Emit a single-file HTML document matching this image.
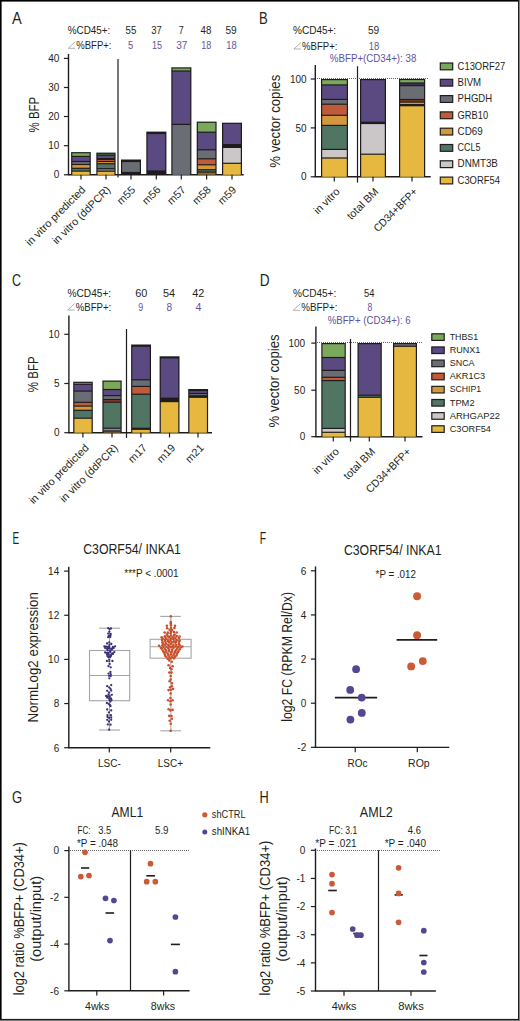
<!DOCTYPE html>
<html><head><meta charset="utf-8"><style>
html,body{margin:0;padding:0;background:#fff;}
svg{display:block;}
text{font-family:"Liberation Sans", sans-serif;}
</style></head><body>
<svg width="520" height="1021" viewBox="0 0 520 1021">
<rect x="0" y="0" width="520" height="1021" fill="#fff"/>
<text id="t0" transform="translate(12.00,23.80) scale(0.8865,1)" font-size="16.5" fill="#231f20">A</text>
<text id="t1" transform="translate(67.70,33.80) scale(0.9907,1)" font-size="10" fill="#231f20">%CD45+:</text>
<path d="M75.30,41.70 L68.20,48.30 L75.20,48.30" fill="none" stroke="#9a9a9a" stroke-width="0.8"/>
<text id="t2" transform="translate(76.30,48.80) scale(0.9526,1)" font-size="10" fill="#231f20">%BFP+:</text>
<text id="t3" transform="translate(125.50,33.75) scale(0.9685,1)" font-size="10" fill="#231f20">55</text>
<text id="t4" transform="translate(151.25,33.75) scale(0.9459,1)" font-size="10" fill="#231f20">37</text>
<text id="t5" transform="translate(178.75,33.75) scale(0.9009,1)" font-size="10" fill="#231f20">7</text>
<text id="t6" transform="translate(200.50,33.75) scale(0.9685,1)" font-size="10" fill="#231f20">48</text>
<text id="t7" transform="translate(225.50,33.75) scale(1.0135,1)" font-size="10" fill="#231f20">59</text>
<text id="t8" transform="translate(128.00,48.75) scale(0.9459,1)" font-size="10" fill="#62529c">5</text>
<text id="t9" transform="translate(152.00,48.75) scale(0.9009,1)" font-size="10" fill="#62529c">15</text>
<text id="t10" transform="translate(176.25,48.75) scale(1.0135,1)" font-size="10" fill="#62529c">37</text>
<text id="t11" transform="translate(201.25,48.75) scale(0.9009,1)" font-size="10" fill="#62529c">18</text>
<text id="t12" transform="translate(226.25,48.75) scale(0.9459,1)" font-size="10" fill="#62529c">18</text>
<line x1="68.50" y1="54.00" x2="68.50" y2="174.80" stroke="#1f1c1d" stroke-width="1.4"/>
<line x1="63.90" y1="58.40" x2="68.50" y2="58.40" stroke="#1f1c1d" stroke-width="1.2"/>
<text id="t13" transform="translate(48.30,62.00) scale(1.0000,1)" font-size="10" fill="#231f20">40</text>
<line x1="63.90" y1="87.50" x2="68.50" y2="87.50" stroke="#1f1c1d" stroke-width="1.2"/>
<text id="t14" transform="translate(48.30,91.10) scale(1.0000,1)" font-size="10" fill="#231f20">30</text>
<line x1="63.90" y1="116.50" x2="68.50" y2="116.50" stroke="#1f1c1d" stroke-width="1.2"/>
<text id="t15" transform="translate(48.30,120.10) scale(1.0000,1)" font-size="10" fill="#231f20">20</text>
<line x1="63.90" y1="145.70" x2="68.50" y2="145.70" stroke="#1f1c1d" stroke-width="1.2"/>
<text id="t16" transform="translate(48.30,149.30) scale(1.0000,1)" font-size="10" fill="#231f20">10</text>
<line x1="63.90" y1="174.80" x2="68.50" y2="174.80" stroke="#1f1c1d" stroke-width="1.2"/>
<text id="t17" transform="translate(53.85,178.40) scale(1.0000,1)" font-size="10" fill="#231f20">0</text>
<text transform="translate(39.00,114.60) rotate(-90) translate(-17.80,0) scale(0.8295,1)" font-size="13.8" fill="#231f20">% BFP</text>
<line x1="67.80" y1="174.80" x2="243.70" y2="174.80" stroke="#1f1c1d" stroke-width="1.4"/>
<line x1="118.00" y1="59.00" x2="118.00" y2="177.50" stroke="#1f1c1d" stroke-width="1.2"/>
<rect x="71.10" y="152.10" width="19.70" height="22.70" fill="#1f1c1d"/>
<rect x="72.30" y="153.30" width="17.30" height="2.50" fill="#7aa95c"/>
<rect x="72.30" y="157.00" width="17.30" height="3.90" fill="#5b4981"/>
<rect x="72.30" y="162.10" width="17.30" height="1.80" fill="#6a6e74"/>
<rect x="72.30" y="165.10" width="17.30" height="2.60" fill="#d5973c"/>
<rect x="72.30" y="168.90" width="17.30" height="1.60" fill="#507663"/>
<rect x="72.30" y="171.70" width="17.30" height="3.10" fill="#e6b840"/>
<rect x="96.30" y="152.60" width="19.30" height="22.20" fill="#1f1c1d"/>
<rect x="97.50" y="153.80" width="16.90" height="0.80" fill="#4f7a45"/>
<rect x="97.50" y="155.80" width="16.90" height="2.20" fill="#5b4981"/>
<rect x="97.50" y="160.00" width="16.90" height="0.90" fill="#bf5a3b"/>
<rect x="97.50" y="162.10" width="16.90" height="1.00" fill="#d5973c"/>
<rect x="97.50" y="164.30" width="16.90" height="3.80" fill="#507663"/>
<rect x="97.50" y="169.30" width="16.90" height="1.30" fill="#8e8496"/>
<rect x="97.50" y="171.80" width="16.90" height="3.00" fill="#e6b840"/>
<rect x="121.00" y="159.50" width="20.00" height="15.30" fill="#1f1c1d"/>
<rect x="122.20" y="162.10" width="17.60" height="9.80" fill="#6a6e74"/>
<rect x="122.20" y="173.10" width="17.60" height="1.70" fill="#1f1c1d"/>
<rect x="146.30" y="131.60" width="20.10" height="43.20" fill="#1f1c1d"/>
<rect x="147.50" y="134.10" width="17.70" height="36.30" fill="#5b4981"/>
<rect x="147.50" y="171.60" width="17.70" height="3.20" fill="#1f1c1d"/>
<rect x="171.30" y="67.30" width="20.10" height="107.50" fill="#1f1c1d"/>
<rect x="172.50" y="68.50" width="17.70" height="1.90" fill="#7aa95c"/>
<rect x="172.50" y="71.60" width="17.70" height="52.20" fill="#5b4981"/>
<rect x="172.50" y="125.00" width="17.70" height="49.80" fill="#6a6e74"/>
<rect x="196.70" y="121.60" width="19.90" height="53.20" fill="#1f1c1d"/>
<rect x="197.90" y="122.80" width="17.50" height="8.80" fill="#7aa95c"/>
<rect x="197.90" y="132.80" width="17.50" height="16.40" fill="#5b4981"/>
<rect x="197.90" y="150.40" width="17.50" height="7.80" fill="#6a6e74"/>
<rect x="197.90" y="159.40" width="17.50" height="4.80" fill="#bf5a3b"/>
<rect x="197.90" y="165.40" width="17.50" height="3.70" fill="#d5973c"/>
<rect x="197.90" y="170.30" width="17.50" height="1.10" fill="#507663"/>
<rect x="197.90" y="172.60" width="17.50" height="2.20" fill="#8a6a35"/>
<rect x="222.00" y="122.70" width="20.00" height="52.10" fill="#1f1c1d"/>
<rect x="223.20" y="123.90" width="17.60" height="20.10" fill="#5b4981"/>
<rect x="223.20" y="145.20" width="17.60" height="1.60" fill="#1f1c1d"/>
<rect x="223.20" y="148.00" width="17.60" height="14.70" fill="#cbc6c8"/>
<rect x="223.20" y="163.90" width="17.60" height="10.90" fill="#e6b840"/>
<line x1="81.00" y1="174.80" x2="81.00" y2="179.60" stroke="#1f1c1d" stroke-width="1.2"/>
<line x1="106.00" y1="174.80" x2="106.00" y2="179.60" stroke="#1f1c1d" stroke-width="1.2"/>
<line x1="131.00" y1="174.80" x2="131.00" y2="179.60" stroke="#1f1c1d" stroke-width="1.2"/>
<line x1="156.30" y1="174.80" x2="156.30" y2="179.60" stroke="#1f1c1d" stroke-width="1.2"/>
<line x1="181.30" y1="174.80" x2="181.30" y2="179.60" stroke="#1f1c1d" stroke-width="1.2"/>
<line x1="206.60" y1="174.80" x2="206.60" y2="179.60" stroke="#1f1c1d" stroke-width="1.2"/>
<line x1="232.00" y1="174.80" x2="232.00" y2="179.60" stroke="#1f1c1d" stroke-width="1.2"/>
<text id="da0" transform="translate(86.00,190.50) rotate(-45) scale(1.0000,1) translate(-79.22,0)" font-size="10.8" fill="#231f20">in vitro predicted</text>
<text id="da1" transform="translate(111.00,190.50) rotate(-45) scale(1.0000,1) translate(-76.84,0)" font-size="10.8" fill="#231f20">in vitro (ddPCR)</text>
<text id="da2" transform="translate(136.00,190.50) rotate(-45) scale(1.0000,1) translate(-21.01,0)" font-size="10.8" fill="#231f20">m55</text>
<text id="da3" transform="translate(161.30,190.50) rotate(-45) scale(1.0000,1) translate(-21.01,0)" font-size="10.8" fill="#231f20">m56</text>
<text id="da4" transform="translate(186.30,190.50) rotate(-45) scale(1.0000,1) translate(-21.01,0)" font-size="10.8" fill="#231f20">m57</text>
<text id="da5" transform="translate(211.60,190.50) rotate(-45) scale(1.0000,1) translate(-21.01,0)" font-size="10.8" fill="#231f20">m58</text>
<text id="da6" transform="translate(237.00,190.50) rotate(-45) scale(1.0000,1) translate(-21.01,0)" font-size="10.8" fill="#231f20">m59</text>
<text id="t18" transform="translate(259.00,24.10) scale(0.7929,1)" font-size="16.5" fill="#231f20">B</text>
<text id="t19" transform="translate(293.00,34.00) scale(1.0035,1)" font-size="10" fill="#231f20">%CD45+:</text>
<path d="M301.05,42.40 L293.95,49.00 L300.95,49.00" fill="none" stroke="#9a9a9a" stroke-width="0.8"/>
<text id="t20" transform="translate(302.05,49.50) scale(0.9594,1)" font-size="10" fill="#231f20">%BFP+:</text>
<text id="t21" transform="translate(368.00,34.00) scale(1.0135,1)" font-size="10" fill="#231f20">59</text>
<text id="t22" transform="translate(368.75,49.50) scale(0.9459,1)" font-size="10" fill="#62529c">18</text>
<text id="t23" transform="translate(329.80,61.50) scale(0.9747,1)" font-size="10" fill="#62529c">%BFP+(CD34+): 38</text>
<line x1="315.30" y1="65.00" x2="315.30" y2="176.80" stroke="#1f1c1d" stroke-width="1.4"/>
<line x1="310.70" y1="79.00" x2="315.30" y2="79.00" stroke="#1f1c1d" stroke-width="1.2"/>
<text id="t24" transform="translate(289.90,82.60) scale(1.0000,1)" font-size="10" fill="#231f20">100</text>
<line x1="310.70" y1="127.90" x2="315.30" y2="127.90" stroke="#1f1c1d" stroke-width="1.2"/>
<text id="t25" transform="translate(295.50,131.50) scale(1.0000,1)" font-size="10" fill="#231f20">50</text>
<line x1="310.70" y1="176.80" x2="315.30" y2="176.80" stroke="#1f1c1d" stroke-width="1.2"/>
<text id="t26" transform="translate(301.05,180.40) scale(1.0000,1)" font-size="10" fill="#231f20">0</text>
<text transform="translate(280.10,121.20) rotate(-90) translate(-46.50,0) scale(0.9546,1)" font-size="13.8" fill="#231f20">% vector copies</text>
<path d="M317,78h1v1h-1zM319,78h1v1h-1zM321,78h1v1h-1zM323,78h1v1h-1zM325,78h1v1h-1zM327,78h1v1h-1zM329,78h1v1h-1zM331,78h1v1h-1zM333,78h1v1h-1zM335,78h1v1h-1zM337,78h1v1h-1zM339,78h1v1h-1zM341,78h1v1h-1zM343,78h1v1h-1zM345,78h1v1h-1zM347,78h1v1h-1zM349,78h1v1h-1zM351,78h1v1h-1zM353,78h1v1h-1zM355,78h1v1h-1zM357,78h1v1h-1zM359,78h1v1h-1zM361,78h1v1h-1zM363,78h1v1h-1zM365,78h1v1h-1zM367,78h1v1h-1zM369,78h1v1h-1zM371,78h1v1h-1zM373,78h1v1h-1zM375,78h1v1h-1zM377,78h1v1h-1zM379,78h1v1h-1zM381,78h1v1h-1zM383,78h1v1h-1zM385,78h1v1h-1zM387,78h1v1h-1zM389,78h1v1h-1zM391,78h1v1h-1zM393,78h1v1h-1zM395,78h1v1h-1zM397,78h1v1h-1zM399,78h1v1h-1zM401,78h1v1h-1zM403,78h1v1h-1zM405,78h1v1h-1zM407,78h1v1h-1zM409,78h1v1h-1zM411,78h1v1h-1zM413,78h1v1h-1zM415,78h1v1h-1zM417,78h1v1h-1zM419,78h1v1h-1zM421,78h1v1h-1zM423,78h1v1h-1zM425,78h1v1h-1zM427,78h1v1h-1z" fill="#666" shape-rendering="crispEdges"/>
<line x1="314.60" y1="176.80" x2="430.70" y2="176.80" stroke="#1f1c1d" stroke-width="1.4"/>
<line x1="357.50" y1="66.30" x2="357.50" y2="182.60" stroke="#1f1c1d" stroke-width="1.2"/>
<rect x="321.00" y="79.00" width="27.00" height="97.80" fill="#1f1c1d"/>
<rect x="322.20" y="80.20" width="24.60" height="4.10" fill="#7aa95c"/>
<rect x="322.20" y="85.50" width="24.60" height="13.30" fill="#5b4981"/>
<rect x="322.20" y="100.00" width="24.60" height="3.60" fill="#6a6e74"/>
<rect x="322.20" y="104.80" width="24.60" height="9.90" fill="#bf5a3b"/>
<rect x="322.20" y="115.90" width="24.60" height="8.90" fill="#d5973c"/>
<rect x="322.20" y="126.00" width="24.60" height="22.80" fill="#507663"/>
<rect x="322.20" y="150.00" width="24.60" height="7.40" fill="#cbc6c8"/>
<rect x="322.20" y="158.60" width="24.60" height="18.20" fill="#e6b840"/>
<rect x="360.00" y="79.00" width="26.00" height="97.80" fill="#1f1c1d"/>
<rect x="361.20" y="80.20" width="23.60" height="41.50" fill="#5b4981"/>
<rect x="361.20" y="124.10" width="23.60" height="29.50" fill="#cbc6c8"/>
<rect x="361.20" y="154.80" width="23.60" height="22.00" fill="#e6b840"/>
<rect x="399.00" y="78.90" width="26.20" height="97.90" fill="#1f1c1d"/>
<rect x="400.20" y="80.10" width="23.80" height="2.30" fill="#7aa95c"/>
<rect x="400.20" y="83.60" width="23.80" height="1.40" fill="#3f3158"/>
<rect x="400.20" y="86.20" width="23.80" height="12.70" fill="#6a6e74"/>
<rect x="400.20" y="100.10" width="23.80" height="1.40" fill="#7a3a28"/>
<rect x="400.20" y="102.70" width="23.80" height="1.30" fill="#d5973c"/>
<rect x="400.20" y="106.30" width="23.80" height="70.50" fill="#e6b840"/>
<line x1="334.30" y1="176.80" x2="334.30" y2="181.60" stroke="#1f1c1d" stroke-width="1.2"/>
<line x1="373.00" y1="176.80" x2="373.00" y2="181.60" stroke="#1f1c1d" stroke-width="1.2"/>
<line x1="412.00" y1="176.80" x2="412.00" y2="181.60" stroke="#1f1c1d" stroke-width="1.2"/>
<text id="db0" transform="translate(340.50,192.30) rotate(-45) scale(1.0000,1) translate(-31.81,0)" font-size="10.8" fill="#231f20">in vitro</text>
<text id="db1" transform="translate(379.20,192.30) rotate(-45) scale(1.0000,1) translate(-39.64,0)" font-size="10.8" fill="#231f20">total BM</text>
<text id="db2" transform="translate(418.20,192.30) rotate(-45) scale(0.9300,1) translate(-61.24,0)" font-size="10.8" fill="#231f20">CD34+BFP+</text>
<rect x="440.30" y="63.00" width="12.40" height="6.80" fill="#7aa95c" stroke="#1f1c1d" stroke-width="1.2"/>
<text id="t27" transform="translate(457.60,69.60) scale(0.9152,1)" font-size="10.3" fill="#231f20">C13ORF27</text>
<rect x="440.30" y="79.30" width="12.40" height="6.80" fill="#5b4981" stroke="#1f1c1d" stroke-width="1.2"/>
<text id="t28" transform="translate(457.60,85.90) scale(0.9332,1)" font-size="10.3" fill="#231f20">BIVM</text>
<rect x="440.30" y="95.60" width="12.40" height="6.80" fill="#6a6e74" stroke="#1f1c1d" stroke-width="1.2"/>
<text id="t29" transform="translate(457.60,102.20) scale(0.9305,1)" font-size="10.3" fill="#231f20">PHGDH</text>
<rect x="440.30" y="111.90" width="12.40" height="6.80" fill="#bf5a3b" stroke="#1f1c1d" stroke-width="1.2"/>
<text id="t30" transform="translate(457.60,118.50) scale(0.9028,1)" font-size="10.3" fill="#231f20">GRB10</text>
<rect x="440.30" y="128.20" width="12.40" height="6.80" fill="#d5973c" stroke="#1f1c1d" stroke-width="1.2"/>
<text id="t31" transform="translate(457.60,134.80) scale(0.9538,1)" font-size="10.3" fill="#231f20">CD69</text>
<rect x="440.30" y="144.50" width="12.40" height="6.80" fill="#507663" stroke="#1f1c1d" stroke-width="1.2"/>
<text id="t32" transform="translate(457.60,151.10) scale(0.8664,1)" font-size="10.3" fill="#231f20">CCL5</text>
<rect x="440.30" y="160.80" width="12.40" height="6.80" fill="#cbc6c8" stroke="#1f1c1d" stroke-width="1.2"/>
<text id="t33" transform="translate(457.60,167.40) scale(0.9520,1)" font-size="10.3" fill="#231f20">DNMT3B</text>
<rect x="440.30" y="177.10" width="12.40" height="6.80" fill="#e6b840" stroke="#1f1c1d" stroke-width="1.2"/>
<text id="t34" transform="translate(457.60,183.70) scale(0.9126,1)" font-size="10.3" fill="#231f20">C3ORF54</text>
<text id="t35" transform="translate(12.00,285.90) scale(0.7576,1)" font-size="16.5" fill="#231f20">C</text>
<text id="t36" transform="translate(67.50,297.00) scale(1.0151,1)" font-size="10" fill="#231f20">%CD45+:</text>
<path d="M74.80,303.40 L67.70,310.00 L74.70,310.00" fill="none" stroke="#9a9a9a" stroke-width="0.8"/>
<text id="t37" transform="translate(75.80,310.50) scale(0.9594,1)" font-size="10" fill="#231f20">%BFP+:</text>
<text id="t38" transform="translate(135.20,296.60) scale(1.0901,1)" font-size="10" fill="#231f20">60</text>
<text id="t39" transform="translate(162.90,296.60) scale(1.0901,1)" font-size="10" fill="#231f20">54</text>
<text id="t40" transform="translate(192.30,296.60) scale(1.0901,1)" font-size="10" fill="#231f20">42</text>
<text id="t41" transform="translate(138.30,310.90) scale(0.8829,1)" font-size="10" fill="#62529c">9</text>
<text id="t42" transform="translate(166.50,310.90) scale(1.0090,1)" font-size="10" fill="#62529c">8</text>
<text id="t43" transform="translate(195.60,310.90) scale(1.0631,1)" font-size="10" fill="#62529c">4</text>
<line x1="68.90" y1="315.50" x2="68.90" y2="432.70" stroke="#1f1c1d" stroke-width="1.4"/>
<line x1="64.30" y1="334.30" x2="68.90" y2="334.30" stroke="#1f1c1d" stroke-width="1.2"/>
<text id="t44" transform="translate(48.40,337.80) scale(1.0000,1)" font-size="10" fill="#231f20">10</text>
<line x1="64.30" y1="383.50" x2="68.90" y2="383.50" stroke="#1f1c1d" stroke-width="1.2"/>
<text id="t45" transform="translate(53.95,387.00) scale(1.0000,1)" font-size="10" fill="#231f20">5</text>
<line x1="64.30" y1="432.70" x2="68.90" y2="432.70" stroke="#1f1c1d" stroke-width="1.2"/>
<text id="t46" transform="translate(53.95,436.20) scale(1.0000,1)" font-size="10" fill="#231f20">0</text>
<text transform="translate(38.20,374.20) rotate(-90) translate(-17.95,0) scale(0.8365,1)" font-size="13.8" fill="#231f20">% BFP</text>
<line x1="68.20" y1="432.70" x2="212.00" y2="432.70" stroke="#1f1c1d" stroke-width="1.4"/>
<line x1="126.50" y1="329.00" x2="126.50" y2="438.00" stroke="#1f1c1d" stroke-width="1.2"/>
<rect x="73.20" y="381.70" width="19.60" height="51.00" fill="#1f1c1d"/>
<rect x="74.40" y="382.90" width="17.20" height="0.80" fill="#7aa95c"/>
<rect x="74.40" y="384.90" width="17.20" height="5.60" fill="#5b4981"/>
<rect x="74.40" y="391.70" width="17.20" height="10.00" fill="#6a6e74"/>
<rect x="74.40" y="402.90" width="17.20" height="2.60" fill="#bf5a3b"/>
<rect x="74.40" y="406.70" width="17.20" height="3.00" fill="#d5973c"/>
<rect x="74.40" y="410.90" width="17.20" height="6.70" fill="#507663"/>
<rect x="74.40" y="418.80" width="17.20" height="13.90" fill="#e6b840"/>
<rect x="102.40" y="380.50" width="19.30" height="52.20" fill="#1f1c1d"/>
<rect x="103.60" y="381.70" width="16.90" height="7.20" fill="#7aa95c"/>
<rect x="103.60" y="390.10" width="16.90" height="4.90" fill="#5b4981"/>
<rect x="103.60" y="396.20" width="16.90" height="2.70" fill="#6a6e74"/>
<rect x="103.60" y="400.10" width="16.90" height="1.50" fill="#8b3a2a"/>
<rect x="103.60" y="402.80" width="16.90" height="24.80" fill="#507663"/>
<rect x="103.60" y="428.80" width="16.90" height="1.60" fill="#8e8496"/>
<rect x="103.60" y="431.60" width="16.90" height="1.10" fill="#8a6a35"/>
<rect x="131.10" y="344.50" width="19.90" height="88.20" fill="#1f1c1d"/>
<rect x="132.30" y="346.80" width="17.50" height="32.40" fill="#5b4981"/>
<rect x="132.30" y="380.40" width="17.50" height="5.40" fill="#6a6e74"/>
<rect x="132.30" y="387.00" width="17.50" height="6.60" fill="#bf5a3b"/>
<rect x="132.30" y="394.80" width="17.50" height="32.90" fill="#507663"/>
<rect x="132.30" y="429.90" width="17.50" height="2.80" fill="#e6b840"/>
<rect x="159.60" y="356.30" width="19.90" height="76.40" fill="#1f1c1d"/>
<rect x="160.80" y="358.40" width="17.50" height="39.20" fill="#5b4981"/>
<rect x="160.80" y="398.80" width="17.50" height="2.20" fill="#1f1c1d"/>
<rect x="160.80" y="402.20" width="17.50" height="30.50" fill="#e6b840"/>
<rect x="188.20" y="389.00" width="19.90" height="43.70" fill="#1f1c1d"/>
<rect x="189.40" y="391.10" width="17.50" height="1.80" fill="#5b4981"/>
<rect x="189.40" y="394.10" width="17.50" height="1.10" fill="#6a6e74"/>
<rect x="189.40" y="397.90" width="17.50" height="34.80" fill="#e6b840"/>
<line x1="82.90" y1="432.70" x2="82.90" y2="437.50" stroke="#1f1c1d" stroke-width="1.2"/>
<line x1="112.00" y1="432.70" x2="112.00" y2="437.50" stroke="#1f1c1d" stroke-width="1.2"/>
<line x1="140.90" y1="432.70" x2="140.90" y2="437.50" stroke="#1f1c1d" stroke-width="1.2"/>
<line x1="169.50" y1="432.70" x2="169.50" y2="437.50" stroke="#1f1c1d" stroke-width="1.2"/>
<line x1="198.00" y1="432.70" x2="198.00" y2="437.50" stroke="#1f1c1d" stroke-width="1.2"/>
<text id="dc0" transform="translate(89.40,448.60) rotate(-45) scale(1.0000,1) translate(-79.22,0)" font-size="10.8" fill="#231f20">in vitro predicted</text>
<text id="dc1" transform="translate(118.50,448.60) rotate(-45) scale(1.0000,1) translate(-76.84,0)" font-size="10.8" fill="#231f20">in vitro (ddPCR)</text>
<text id="dc2" transform="translate(147.40,448.60) rotate(-45) scale(1.0000,1) translate(-21.01,0)" font-size="10.8" fill="#231f20">m17</text>
<text id="dc3" transform="translate(176.00,448.60) rotate(-45) scale(1.0000,1) translate(-21.01,0)" font-size="10.8" fill="#231f20">m19</text>
<text id="dc4" transform="translate(204.50,448.60) rotate(-45) scale(1.0000,1) translate(-21.01,0)" font-size="10.8" fill="#231f20">m21</text>
<text id="t47" transform="translate(259.80,285.80) scale(0.8249,1)" font-size="16.5" fill="#231f20">D</text>
<text id="t48" transform="translate(293.00,297.00) scale(1.0046,1)" font-size="10" fill="#231f20">%CD45+:</text>
<path d="M300.30,303.70 L293.20,310.30 L300.20,310.30" fill="none" stroke="#9a9a9a" stroke-width="0.8"/>
<text id="t49" transform="translate(301.30,310.80) scale(0.9797,1)" font-size="10" fill="#231f20">%BFP+:</text>
<text id="t50" transform="translate(364.00,297.00) scale(0.9369,1)" font-size="10" fill="#231f20">54</text>
<text id="t51" transform="translate(367.50,310.50) scale(0.8649,1)" font-size="10" fill="#62529c">8</text>
<text id="t52" transform="translate(327.70,324.00) scale(0.9646,1)" font-size="10" fill="#62529c">%BFP+ (CD34+): 6</text>
<line x1="315.90" y1="326.50" x2="315.90" y2="436.70" stroke="#1f1c1d" stroke-width="1.4"/>
<line x1="311.30" y1="343.10" x2="315.90" y2="343.10" stroke="#1f1c1d" stroke-width="1.2"/>
<text id="t53" transform="translate(288.50,346.70) scale(1.0000,1)" font-size="10" fill="#231f20">100</text>
<line x1="311.30" y1="390.20" x2="315.90" y2="390.20" stroke="#1f1c1d" stroke-width="1.2"/>
<text id="t54" transform="translate(294.10,393.80) scale(1.0000,1)" font-size="10" fill="#231f20">50</text>
<line x1="311.30" y1="436.70" x2="315.90" y2="436.70" stroke="#1f1c1d" stroke-width="1.2"/>
<text id="t55" transform="translate(299.65,440.30) scale(1.0000,1)" font-size="10" fill="#231f20">0</text>
<text transform="translate(279.20,380.90) rotate(-90) translate(-46.50,0) scale(0.9546,1)" font-size="13.8" fill="#231f20">% vector copies</text>
<path d="M317,342h1v1h-1zM319,342h1v1h-1zM321,342h1v1h-1zM323,342h1v1h-1zM325,342h1v1h-1zM327,342h1v1h-1zM329,342h1v1h-1zM331,342h1v1h-1zM333,342h1v1h-1zM335,342h1v1h-1zM337,342h1v1h-1zM339,342h1v1h-1zM341,342h1v1h-1zM343,342h1v1h-1zM345,342h1v1h-1zM347,342h1v1h-1zM349,342h1v1h-1zM351,342h1v1h-1zM353,342h1v1h-1zM355,342h1v1h-1zM357,342h1v1h-1zM359,342h1v1h-1zM361,342h1v1h-1zM363,342h1v1h-1zM365,342h1v1h-1zM367,342h1v1h-1zM369,342h1v1h-1zM371,342h1v1h-1zM373,342h1v1h-1zM375,342h1v1h-1zM377,342h1v1h-1zM379,342h1v1h-1zM381,342h1v1h-1zM383,342h1v1h-1zM385,342h1v1h-1zM387,342h1v1h-1zM389,342h1v1h-1zM391,342h1v1h-1zM393,342h1v1h-1zM395,342h1v1h-1zM397,342h1v1h-1zM399,342h1v1h-1zM401,342h1v1h-1zM403,342h1v1h-1zM405,342h1v1h-1zM407,342h1v1h-1zM409,342h1v1h-1zM411,342h1v1h-1zM413,342h1v1h-1zM415,342h1v1h-1zM417,342h1v1h-1zM419,342h1v1h-1zM421,342h1v1h-1z" fill="#666" shape-rendering="crispEdges"/>
<line x1="315.20" y1="436.70" x2="422.50" y2="436.70" stroke="#1f1c1d" stroke-width="1.4"/>
<line x1="350.50" y1="339.00" x2="350.50" y2="441.50" stroke="#1f1c1d" stroke-width="1.2"/>
<rect x="321.30" y="343.00" width="24.50" height="93.70" fill="#1f1c1d"/>
<rect x="322.50" y="344.20" width="22.10" height="12.70" fill="#7aa95c"/>
<rect x="322.50" y="358.10" width="22.10" height="11.70" fill="#5b4981"/>
<rect x="322.50" y="371.00" width="22.10" height="5.70" fill="#6a6e74"/>
<rect x="322.50" y="377.90" width="22.10" height="2.10" fill="#bf5a3b"/>
<rect x="322.50" y="381.20" width="22.10" height="46.60" fill="#507663"/>
<rect x="322.50" y="429.00" width="22.10" height="2.70" fill="#cbc6c8"/>
<rect x="322.50" y="432.90" width="22.10" height="3.80" fill="#e6b840"/>
<rect x="357.50" y="343.00" width="24.30" height="93.70" fill="#1f1c1d"/>
<rect x="358.70" y="344.20" width="21.90" height="50.40" fill="#5b4981"/>
<rect x="358.70" y="395.80" width="21.90" height="0.90" fill="#507663"/>
<rect x="358.70" y="397.90" width="21.90" height="38.80" fill="#e6b840"/>
<rect x="393.00" y="343.00" width="24.00" height="93.70" fill="#1f1c1d"/>
<rect x="394.20" y="344.20" width="21.60" height="1.50" fill="#6a6e74"/>
<rect x="394.20" y="346.90" width="21.60" height="89.80" fill="#e6b840"/>
<line x1="333.30" y1="436.70" x2="333.30" y2="441.50" stroke="#1f1c1d" stroke-width="1.2"/>
<line x1="369.30" y1="436.70" x2="369.30" y2="441.50" stroke="#1f1c1d" stroke-width="1.2"/>
<line x1="405.00" y1="436.70" x2="405.00" y2="441.50" stroke="#1f1c1d" stroke-width="1.2"/>
<text id="dd0" transform="translate(339.80,452.30) rotate(-45) scale(1.0000,1) translate(-31.81,0)" font-size="10.8" fill="#231f20">in vitro</text>
<text id="dd1" transform="translate(375.80,452.30) rotate(-45) scale(1.0000,1) translate(-39.64,0)" font-size="10.8" fill="#231f20">total BM</text>
<text id="dd2" transform="translate(411.50,452.30) rotate(-45) scale(0.9500,1) translate(-61.24,0)" font-size="10.8" fill="#231f20">CD34+BFP+</text>
<rect x="431.80" y="333.80" width="12.40" height="6.60" fill="#7aa95c" stroke="#1f1c1d" stroke-width="1.2"/>
<text id="t56" transform="translate(449.70,339.80) scale(0.8986,1)" font-size="9.8" fill="#231f20">THBS1</text>
<rect x="431.80" y="346.94" width="12.40" height="6.60" fill="#5b4981" stroke="#1f1c1d" stroke-width="1.2"/>
<text id="t57" transform="translate(449.70,352.95) scale(0.9241,1)" font-size="9.8" fill="#231f20">RUNX1</text>
<rect x="431.80" y="360.08" width="12.40" height="6.60" fill="#6a6e74" stroke="#1f1c1d" stroke-width="1.2"/>
<text id="t58" transform="translate(449.70,366.10) scale(0.9140,1)" font-size="9.8" fill="#231f20">SNCA</text>
<rect x="431.80" y="373.22" width="12.40" height="6.60" fill="#bf5a3b" stroke="#1f1c1d" stroke-width="1.2"/>
<text id="t59" transform="translate(449.70,379.25) scale(0.9312,1)" font-size="9.8" fill="#231f20">AKR1C3</text>
<rect x="431.80" y="386.36" width="12.40" height="6.60" fill="#d5973c" stroke="#1f1c1d" stroke-width="1.2"/>
<text id="t60" transform="translate(449.70,392.40) scale(0.8904,1)" font-size="9.8" fill="#231f20">SCHIP1</text>
<rect x="431.80" y="399.50" width="12.40" height="6.60" fill="#507663" stroke="#1f1c1d" stroke-width="1.2"/>
<text id="t61" transform="translate(449.70,405.55) scale(0.9534,1)" font-size="9.8" fill="#231f20">TPM2</text>
<rect x="431.80" y="412.64" width="12.40" height="6.60" fill="#cbc6c8" stroke="#1f1c1d" stroke-width="1.2"/>
<text id="t62" transform="translate(449.70,418.70) scale(0.9621,1)" font-size="9.8" fill="#231f20">ARHGAP22</text>
<rect x="431.80" y="425.78" width="12.40" height="6.60" fill="#e6b840" stroke="#1f1c1d" stroke-width="1.2"/>
<text id="t63" transform="translate(449.70,431.85) scale(0.9365,1)" font-size="9.8" fill="#231f20">C3ORF54</text>
<text id="t64" transform="translate(12.50,543.90) scale(0.6015,1)" font-size="16.5" fill="#231f20">E</text>
<text id="t65" transform="translate(83.20,554.40) scale(0.8793,1)" font-size="14" fill="#231f20">C3ORF54/ INKA1</text>
<text id="t66" transform="translate(124.30,577.10) scale(0.9768,1)" font-size="10.2" fill="#231f20">***P &lt; .0001</text>
<line x1="68.80" y1="566.80" x2="68.80" y2="747.70" stroke="#1f1c1d" stroke-width="1.4"/>
<line x1="64.20" y1="571.10" x2="68.80" y2="571.10" stroke="#1f1c1d" stroke-width="1.2"/>
<text id="t67" transform="translate(48.10,574.90) scale(1.0000,1)" font-size="10" fill="#231f20">14</text>
<line x1="64.20" y1="615.25" x2="68.80" y2="615.25" stroke="#1f1c1d" stroke-width="1.2"/>
<text id="t68" transform="translate(48.10,619.05) scale(1.0000,1)" font-size="10" fill="#231f20">12</text>
<line x1="64.20" y1="659.40" x2="68.80" y2="659.40" stroke="#1f1c1d" stroke-width="1.2"/>
<text id="t69" transform="translate(48.10,663.20) scale(1.0000,1)" font-size="10" fill="#231f20">10</text>
<line x1="64.20" y1="703.55" x2="68.80" y2="703.55" stroke="#1f1c1d" stroke-width="1.2"/>
<text id="t70" transform="translate(53.65,707.35) scale(1.0000,1)" font-size="10" fill="#231f20">8</text>
<line x1="64.20" y1="747.70" x2="68.80" y2="747.70" stroke="#1f1c1d" stroke-width="1.2"/>
<text id="t71" transform="translate(53.65,751.50) scale(1.0000,1)" font-size="10" fill="#231f20">6</text>
<text transform="translate(38.20,657.20) rotate(-90) translate(-65.30,0) scale(0.9672,1)" font-size="13.8" fill="#231f20">NormLog2 expression</text>
<line x1="68.10" y1="747.70" x2="210.30" y2="747.70" stroke="#1f1c1d" stroke-width="1.4"/>
<line x1="109.30" y1="747.70" x2="109.30" y2="752.50" stroke="#1f1c1d" stroke-width="1.2"/>
<line x1="170.70" y1="747.70" x2="170.70" y2="752.50" stroke="#1f1c1d" stroke-width="1.2"/>
<text id="t72" transform="translate(98.00,767.40) scale(1.0000,1)" font-size="10" fill="#231f20">LSC-</text>
<text id="t73" transform="translate(157.70,767.40) scale(1.0000,1)" font-size="10" fill="#231f20">LSC+</text>
<line x1="109.50" y1="628.20" x2="109.50" y2="730.00" stroke="#a7a5a6" stroke-width="1"/>
<rect x="89.50" y="650.50" width="40.20" height="50.20" fill="white" stroke="#a7a5a6" stroke-width="1.1"/>
<line x1="89.50" y1="675.50" x2="129.70" y2="675.50" stroke="#a7a5a6" stroke-width="1.1"/>
<line x1="99.10" y1="628.20" x2="120.10" y2="628.20" stroke="#a7a5a6" stroke-width="1.1"/>
<line x1="99.10" y1="730.00" x2="120.10" y2="730.00" stroke="#a7a5a6" stroke-width="1.1"/>
<line x1="170.90" y1="616.40" x2="170.90" y2="730.80" stroke="#a7a5a6" stroke-width="1"/>
<rect x="150.10" y="639.30" width="41.00" height="18.90" fill="white" stroke="#a7a5a6" stroke-width="1.1"/>
<line x1="150.10" y1="646.70" x2="191.10" y2="646.70" stroke="#a7a5a6" stroke-width="1.1"/>
<line x1="160.30" y1="616.40" x2="180.90" y2="616.40" stroke="#a7a5a6" stroke-width="1.1"/>
<line x1="160.30" y1="730.80" x2="180.90" y2="730.80" stroke="#a7a5a6" stroke-width="1.1"/>
<circle cx="108.20" cy="628.10" r="1.15" fill="#3a2d76"/>
<circle cx="111.00" cy="628.40" r="1.15" fill="#3a2d76"/>
<circle cx="109.60" cy="629.20" r="1.15" fill="#3a2d76"/>
<circle cx="109.30" cy="631.70" r="1.15" fill="#3a2d76"/>
<circle cx="108.20" cy="633.60" r="1.15" fill="#3a2d76"/>
<circle cx="110.70" cy="633.90" r="1.15" fill="#3a2d76"/>
<circle cx="108.80" cy="635.80" r="1.15" fill="#3a2d76"/>
<circle cx="110.40" cy="635.50" r="1.15" fill="#3a2d76"/>
<circle cx="108.20" cy="637.20" r="1.15" fill="#3a2d76"/>
<circle cx="110.20" cy="636.90" r="1.15" fill="#3a2d76"/>
<circle cx="109.30" cy="642.40" r="1.15" fill="#3a2d76"/>
<circle cx="107.10" cy="643.50" r="1.15" fill="#3a2d76"/>
<circle cx="111.30" cy="644.00" r="1.15" fill="#3a2d76"/>
<circle cx="109.30" cy="645.10" r="1.15" fill="#3a2d76"/>
<circle cx="104.40" cy="646.50" r="1.15" fill="#3a2d76"/>
<circle cx="106.00" cy="646.70" r="1.15" fill="#3a2d76"/>
<circle cx="107.70" cy="647.00" r="1.15" fill="#3a2d76"/>
<circle cx="109.30" cy="646.80" r="1.15" fill="#3a2d76"/>
<circle cx="112.90" cy="647.00" r="1.15" fill="#3a2d76"/>
<circle cx="115.10" cy="646.30" r="1.15" fill="#3a2d76"/>
<circle cx="105.20" cy="648.10" r="1.15" fill="#3a2d76"/>
<circle cx="107.10" cy="648.90" r="1.15" fill="#3a2d76"/>
<circle cx="108.80" cy="648.40" r="1.15" fill="#3a2d76"/>
<circle cx="110.70" cy="648.60" r="1.15" fill="#3a2d76"/>
<circle cx="112.40" cy="648.40" r="1.15" fill="#3a2d76"/>
<circle cx="113.70" cy="647.90" r="1.15" fill="#3a2d76"/>
<circle cx="107.70" cy="650.30" r="1.15" fill="#3a2d76"/>
<circle cx="109.90" cy="650.90" r="1.15" fill="#3a2d76"/>
<circle cx="111.80" cy="649.80" r="1.15" fill="#3a2d76"/>
<circle cx="105.20" cy="652.50" r="1.15" fill="#3a2d76"/>
<circle cx="106.90" cy="652.80" r="1.15" fill="#3a2d76"/>
<circle cx="108.50" cy="653.00" r="1.15" fill="#3a2d76"/>
<circle cx="110.40" cy="652.20" r="1.15" fill="#3a2d76"/>
<circle cx="112.60" cy="653.30" r="1.15" fill="#3a2d76"/>
<circle cx="114.30" cy="652.20" r="1.15" fill="#3a2d76"/>
<circle cx="107.10" cy="654.40" r="1.15" fill="#3a2d76"/>
<circle cx="108.80" cy="654.70" r="1.15" fill="#3a2d76"/>
<circle cx="111.30" cy="654.40" r="1.15" fill="#3a2d76"/>
<circle cx="112.90" cy="653.90" r="1.15" fill="#3a2d76"/>
<circle cx="107.40" cy="656.10" r="1.15" fill="#3a2d76"/>
<circle cx="109.30" cy="656.30" r="1.15" fill="#3a2d76"/>
<circle cx="111.00" cy="655.80" r="1.15" fill="#3a2d76"/>
<circle cx="108.50" cy="657.30" r="1.15" fill="#3a2d76"/>
<circle cx="110.20" cy="657.00" r="1.15" fill="#3a2d76"/>
<circle cx="109.30" cy="659.60" r="1.15" fill="#3a2d76"/>
<circle cx="106.90" cy="661.00" r="1.15" fill="#3a2d76"/>
<circle cx="109.30" cy="661.30" r="1.15" fill="#3a2d76"/>
<circle cx="112.40" cy="661.00" r="1.15" fill="#3a2d76"/>
<circle cx="109.60" cy="664.00" r="1.15" fill="#3a2d76"/>
<circle cx="108.50" cy="666.20" r="1.15" fill="#3a2d76"/>
<circle cx="110.70" cy="667.30" r="1.15" fill="#3a2d76"/>
<circle cx="110.40" cy="672.00" r="1.15" fill="#3a2d76"/>
<circle cx="108.50" cy="673.60" r="1.15" fill="#3a2d76"/>
<circle cx="110.70" cy="674.20" r="1.15" fill="#3a2d76"/>
<circle cx="109.10" cy="675.80" r="1.15" fill="#3a2d76"/>
<circle cx="110.70" cy="676.10" r="1.15" fill="#3a2d76"/>
<circle cx="109.30" cy="678.30" r="1.15" fill="#3a2d76"/>
<circle cx="111.20" cy="685.10" r="1.15" fill="#3a2d76"/>
<circle cx="107.20" cy="686.20" r="1.15" fill="#3a2d76"/>
<circle cx="109.20" cy="687.40" r="1.15" fill="#3a2d76"/>
<circle cx="110.40" cy="688.80" r="1.15" fill="#3a2d76"/>
<circle cx="107.20" cy="690.80" r="1.15" fill="#3a2d76"/>
<circle cx="111.20" cy="690.50" r="1.15" fill="#3a2d76"/>
<circle cx="109.20" cy="692.50" r="1.15" fill="#3a2d76"/>
<circle cx="108.60" cy="694.50" r="1.15" fill="#3a2d76"/>
<circle cx="111.80" cy="694.80" r="1.15" fill="#3a2d76"/>
<circle cx="106.10" cy="696.00" r="1.15" fill="#3a2d76"/>
<circle cx="107.80" cy="696.50" r="1.15" fill="#3a2d76"/>
<circle cx="109.80" cy="696.20" r="1.15" fill="#3a2d76"/>
<circle cx="107.20" cy="697.60" r="1.15" fill="#3a2d76"/>
<circle cx="109.20" cy="698.20" r="1.15" fill="#3a2d76"/>
<circle cx="110.90" cy="698.40" r="1.15" fill="#3a2d76"/>
<circle cx="109.50" cy="699.90" r="1.15" fill="#3a2d76"/>
<circle cx="111.50" cy="699.90" r="1.15" fill="#3a2d76"/>
<circle cx="110.40" cy="701.60" r="1.15" fill="#3a2d76"/>
<circle cx="106.90" cy="703.00" r="1.15" fill="#3a2d76"/>
<circle cx="108.60" cy="703.80" r="1.15" fill="#3a2d76"/>
<circle cx="109.80" cy="705.00" r="1.15" fill="#3a2d76"/>
<circle cx="110.60" cy="706.10" r="1.15" fill="#3a2d76"/>
<circle cx="107.20" cy="709.50" r="1.15" fill="#3a2d76"/>
<circle cx="111.20" cy="710.40" r="1.15" fill="#3a2d76"/>
<circle cx="108.90" cy="712.40" r="1.15" fill="#3a2d76"/>
<circle cx="107.50" cy="715.20" r="1.15" fill="#3a2d76"/>
<circle cx="110.90" cy="715.20" r="1.15" fill="#3a2d76"/>
<circle cx="107.50" cy="717.00" r="1.15" fill="#3a2d76"/>
<circle cx="109.20" cy="718.00" r="1.15" fill="#3a2d76"/>
<circle cx="111.20" cy="717.50" r="1.15" fill="#3a2d76"/>
<circle cx="107.20" cy="719.80" r="1.15" fill="#3a2d76"/>
<circle cx="111.20" cy="719.80" r="1.15" fill="#3a2d76"/>
<circle cx="108.90" cy="721.50" r="1.15" fill="#3a2d76"/>
<circle cx="107.80" cy="724.40" r="1.15" fill="#3a2d76"/>
<circle cx="110.60" cy="724.70" r="1.15" fill="#3a2d76"/>
<circle cx="109.20" cy="729.70" r="1.15" fill="#3a2d76"/>
<circle cx="170.80" cy="616.40" r="1.30" fill="#c9502b"/>
<circle cx="170.80" cy="622.10" r="1.30" fill="#c9502b"/>
<circle cx="170.80" cy="623.50" r="1.30" fill="#c9502b"/>
<circle cx="166.87" cy="625.71" r="1.30" fill="#c9502b"/>
<circle cx="170.98" cy="625.15" r="1.30" fill="#c9502b"/>
<circle cx="174.94" cy="625.86" r="1.30" fill="#c9502b"/>
<circle cx="167.12" cy="628.28" r="1.30" fill="#c9502b"/>
<circle cx="171.07" cy="627.82" r="1.30" fill="#c9502b"/>
<circle cx="174.44" cy="628.00" r="1.30" fill="#c9502b"/>
<circle cx="169.58" cy="629.71" r="1.30" fill="#c9502b"/>
<circle cx="172.03" cy="629.98" r="1.30" fill="#c9502b"/>
<circle cx="164.71" cy="632.62" r="1.30" fill="#c9502b"/>
<circle cx="167.77" cy="632.66" r="1.30" fill="#c9502b"/>
<circle cx="170.96" cy="631.53" r="1.30" fill="#c9502b"/>
<circle cx="173.88" cy="632.03" r="1.30" fill="#c9502b"/>
<circle cx="176.67" cy="632.55" r="1.30" fill="#c9502b"/>
<circle cx="167.00" cy="634.43" r="1.30" fill="#c9502b"/>
<circle cx="170.63" cy="633.27" r="1.30" fill="#c9502b"/>
<circle cx="174.59" cy="634.43" r="1.30" fill="#c9502b"/>
<circle cx="161.67" cy="637.19" r="1.30" fill="#c9502b"/>
<circle cx="164.82" cy="636.42" r="1.30" fill="#c9502b"/>
<circle cx="167.62" cy="636.09" r="1.30" fill="#c9502b"/>
<circle cx="170.91" cy="635.57" r="1.30" fill="#c9502b"/>
<circle cx="174.04" cy="635.58" r="1.30" fill="#c9502b"/>
<circle cx="176.72" cy="636.01" r="1.30" fill="#c9502b"/>
<circle cx="179.59" cy="636.47" r="1.30" fill="#c9502b"/>
<circle cx="162.68" cy="638.52" r="1.30" fill="#c9502b"/>
<circle cx="165.70" cy="638.01" r="1.30" fill="#c9502b"/>
<circle cx="169.10" cy="637.14" r="1.30" fill="#c9502b"/>
<circle cx="172.59" cy="637.27" r="1.30" fill="#c9502b"/>
<circle cx="175.49" cy="637.85" r="1.30" fill="#c9502b"/>
<circle cx="178.92" cy="638.09" r="1.30" fill="#c9502b"/>
<circle cx="162.09" cy="639.94" r="1.30" fill="#c9502b"/>
<circle cx="164.95" cy="640.06" r="1.30" fill="#c9502b"/>
<circle cx="167.51" cy="639.47" r="1.30" fill="#c9502b"/>
<circle cx="170.72" cy="638.76" r="1.30" fill="#c9502b"/>
<circle cx="173.51" cy="638.88" r="1.30" fill="#c9502b"/>
<circle cx="176.61" cy="640.14" r="1.30" fill="#c9502b"/>
<circle cx="179.62" cy="640.52" r="1.30" fill="#c9502b"/>
<circle cx="162.56" cy="642.28" r="1.30" fill="#c9502b"/>
<circle cx="165.04" cy="641.30" r="1.30" fill="#c9502b"/>
<circle cx="167.98" cy="641.13" r="1.30" fill="#c9502b"/>
<circle cx="170.56" cy="640.60" r="1.30" fill="#c9502b"/>
<circle cx="173.81" cy="641.20" r="1.30" fill="#c9502b"/>
<circle cx="176.19" cy="641.78" r="1.30" fill="#c9502b"/>
<circle cx="179.05" cy="641.80" r="1.30" fill="#c9502b"/>
<circle cx="162.87" cy="643.97" r="1.30" fill="#c9502b"/>
<circle cx="165.90" cy="643.40" r="1.30" fill="#c9502b"/>
<circle cx="169.23" cy="642.34" r="1.30" fill="#c9502b"/>
<circle cx="172.29" cy="642.23" r="1.30" fill="#c9502b"/>
<circle cx="175.35" cy="642.78" r="1.30" fill="#c9502b"/>
<circle cx="178.91" cy="644.04" r="1.30" fill="#c9502b"/>
<circle cx="159.10" cy="645.71" r="1.30" fill="#c9502b"/>
<circle cx="162.47" cy="645.58" r="1.30" fill="#c9502b"/>
<circle cx="164.99" cy="644.82" r="1.30" fill="#c9502b"/>
<circle cx="167.98" cy="644.78" r="1.30" fill="#c9502b"/>
<circle cx="170.77" cy="643.94" r="1.30" fill="#c9502b"/>
<circle cx="173.41" cy="644.85" r="1.30" fill="#c9502b"/>
<circle cx="176.27" cy="645.03" r="1.30" fill="#c9502b"/>
<circle cx="179.63" cy="645.26" r="1.30" fill="#c9502b"/>
<circle cx="182.44" cy="646.43" r="1.30" fill="#c9502b"/>
<circle cx="160.88" cy="647.73" r="1.30" fill="#c9502b"/>
<circle cx="163.42" cy="646.93" r="1.30" fill="#c9502b"/>
<circle cx="166.30" cy="646.75" r="1.30" fill="#c9502b"/>
<circle cx="169.25" cy="645.92" r="1.30" fill="#c9502b"/>
<circle cx="172.53" cy="646.24" r="1.30" fill="#c9502b"/>
<circle cx="175.37" cy="646.43" r="1.30" fill="#c9502b"/>
<circle cx="177.94" cy="647.17" r="1.30" fill="#c9502b"/>
<circle cx="180.79" cy="647.33" r="1.30" fill="#c9502b"/>
<circle cx="161.74" cy="648.74" r="1.30" fill="#c9502b"/>
<circle cx="164.73" cy="648.87" r="1.30" fill="#c9502b"/>
<circle cx="168.08" cy="648.04" r="1.30" fill="#c9502b"/>
<circle cx="170.80" cy="647.27" r="1.30" fill="#c9502b"/>
<circle cx="173.55" cy="647.76" r="1.30" fill="#c9502b"/>
<circle cx="176.97" cy="648.77" r="1.30" fill="#c9502b"/>
<circle cx="179.72" cy="649.25" r="1.30" fill="#c9502b"/>
<circle cx="162.96" cy="650.80" r="1.30" fill="#c9502b"/>
<circle cx="166.10" cy="650.27" r="1.30" fill="#c9502b"/>
<circle cx="169.12" cy="649.65" r="1.30" fill="#c9502b"/>
<circle cx="172.27" cy="649.48" r="1.30" fill="#c9502b"/>
<circle cx="175.76" cy="650.22" r="1.30" fill="#c9502b"/>
<circle cx="178.68" cy="651.00" r="1.30" fill="#c9502b"/>
<circle cx="163.89" cy="652.22" r="1.30" fill="#c9502b"/>
<circle cx="166.31" cy="651.69" r="1.30" fill="#c9502b"/>
<circle cx="169.25" cy="651.29" r="1.30" fill="#c9502b"/>
<circle cx="172.18" cy="651.41" r="1.30" fill="#c9502b"/>
<circle cx="175.09" cy="651.89" r="1.30" fill="#c9502b"/>
<circle cx="177.71" cy="652.28" r="1.30" fill="#c9502b"/>
<circle cx="164.74" cy="653.98" r="1.30" fill="#c9502b"/>
<circle cx="167.61" cy="653.43" r="1.30" fill="#c9502b"/>
<circle cx="171.02" cy="652.75" r="1.30" fill="#c9502b"/>
<circle cx="174.19" cy="653.52" r="1.30" fill="#c9502b"/>
<circle cx="177.01" cy="653.74" r="1.30" fill="#c9502b"/>
<circle cx="165.10" cy="655.66" r="1.30" fill="#c9502b"/>
<circle cx="168.31" cy="654.88" r="1.30" fill="#c9502b"/>
<circle cx="170.91" cy="654.58" r="1.30" fill="#c9502b"/>
<circle cx="173.69" cy="654.63" r="1.30" fill="#c9502b"/>
<circle cx="176.47" cy="655.45" r="1.30" fill="#c9502b"/>
<circle cx="166.40" cy="656.95" r="1.30" fill="#c9502b"/>
<circle cx="169.37" cy="656.69" r="1.30" fill="#c9502b"/>
<circle cx="172.38" cy="656.65" r="1.30" fill="#c9502b"/>
<circle cx="175.02" cy="656.74" r="1.30" fill="#c9502b"/>
<circle cx="167.76" cy="658.86" r="1.30" fill="#c9502b"/>
<circle cx="170.63" cy="658.35" r="1.30" fill="#c9502b"/>
<circle cx="173.88" cy="658.37" r="1.30" fill="#c9502b"/>
<circle cx="169.30" cy="660.40" r="1.30" fill="#c9502b"/>
<circle cx="171.80" cy="661.80" r="1.30" fill="#c9502b"/>
<circle cx="168.60" cy="665.30" r="1.30" fill="#c9502b"/>
<circle cx="172.60" cy="666.30" r="1.30" fill="#c9502b"/>
<circle cx="170.10" cy="667.90" r="1.30" fill="#c9502b"/>
<circle cx="171.50" cy="669.20" r="1.30" fill="#c9502b"/>
<circle cx="169.30" cy="672.60" r="1.30" fill="#c9502b"/>
<circle cx="171.50" cy="672.60" r="1.30" fill="#c9502b"/>
<circle cx="170.70" cy="676.00" r="1.30" fill="#c9502b"/>
<circle cx="170.70" cy="679.50" r="1.30" fill="#c9502b"/>
<circle cx="169.60" cy="681.20" r="1.30" fill="#c9502b"/>
<circle cx="171.90" cy="683.20" r="1.30" fill="#c9502b"/>
<circle cx="170.10" cy="687.20" r="1.30" fill="#c9502b"/>
<circle cx="171.90" cy="686.30" r="1.30" fill="#c9502b"/>
<circle cx="168.60" cy="690.10" r="1.30" fill="#c9502b"/>
<circle cx="170.80" cy="689.80" r="1.30" fill="#c9502b"/>
<circle cx="173.00" cy="689.00" r="1.30" fill="#c9502b"/>
<circle cx="170.70" cy="693.50" r="1.30" fill="#c9502b"/>
<circle cx="170.40" cy="698.10" r="1.30" fill="#c9502b"/>
<circle cx="168.10" cy="700.30" r="1.30" fill="#c9502b"/>
<circle cx="172.60" cy="700.30" r="1.30" fill="#c9502b"/>
<circle cx="170.40" cy="701.20" r="1.30" fill="#c9502b"/>
<circle cx="170.70" cy="704.50" r="1.30" fill="#c9502b"/>
<circle cx="168.60" cy="709.30" r="1.30" fill="#c9502b"/>
<circle cx="172.60" cy="709.90" r="1.30" fill="#c9502b"/>
<circle cx="170.40" cy="710.40" r="1.30" fill="#c9502b"/>
<circle cx="169.30" cy="715.90" r="1.30" fill="#c9502b"/>
<circle cx="171.50" cy="716.00" r="1.30" fill="#c9502b"/>
<circle cx="171.90" cy="718.70" r="1.30" fill="#c9502b"/>
<circle cx="169.70" cy="720.70" r="1.30" fill="#c9502b"/>
<circle cx="170.80" cy="723.80" r="1.30" fill="#c9502b"/>
<circle cx="170.70" cy="730.70" r="1.30" fill="#c9502b"/>
<text id="t74" transform="translate(259.70,543.90) scale(0.6359,1)" font-size="16.5" fill="#231f20">F</text>
<text id="t75" transform="translate(343.90,554.80) scale(0.8784,1)" font-size="14" fill="#231f20">C3ORF54/ INKA1</text>
<text id="t76" transform="translate(375.60,578.10) scale(0.9240,1)" font-size="10.6" fill="#231f20">*P = .012</text>
<line x1="315.50" y1="566.50" x2="315.50" y2="747.33" stroke="#1f1c1d" stroke-width="1.4"/>
<line x1="310.90" y1="570.80" x2="315.50" y2="570.80" stroke="#1f1c1d" stroke-width="1.2"/>
<text id="t77" transform="translate(300.65,574.60) scale(1.0000,1)" font-size="10" fill="#231f20">6</text>
<line x1="310.90" y1="614.93" x2="315.50" y2="614.93" stroke="#1f1c1d" stroke-width="1.2"/>
<text id="t78" transform="translate(300.65,618.73) scale(1.0000,1)" font-size="10" fill="#231f20">4</text>
<line x1="310.90" y1="659.07" x2="315.50" y2="659.07" stroke="#1f1c1d" stroke-width="1.2"/>
<text id="t79" transform="translate(300.65,662.87) scale(1.0000,1)" font-size="10" fill="#231f20">2</text>
<line x1="310.90" y1="703.20" x2="315.50" y2="703.20" stroke="#1f1c1d" stroke-width="1.2"/>
<text id="t80" transform="translate(300.65,707.00) scale(1.0000,1)" font-size="10" fill="#231f20">0</text>
<line x1="310.90" y1="747.33" x2="315.50" y2="747.33" stroke="#1f1c1d" stroke-width="1.2"/>
<text id="t81" transform="translate(297.30,751.13) scale(1.0000,1)" font-size="10" fill="#231f20">-2</text>
<text transform="translate(291.90,656.80) rotate(-90) translate(-65.00,0) scale(0.8875,1)" font-size="13.8" fill="#231f20">log2 FC (RPKM Rel/Dx)</text>
<line x1="314.80" y1="747.33" x2="449.30" y2="747.33" stroke="#1f1c1d" stroke-width="1.4"/>
<line x1="355.20" y1="747.33" x2="355.20" y2="752.13" stroke="#1f1c1d" stroke-width="1.2"/>
<line x1="417.30" y1="747.33" x2="417.30" y2="752.13" stroke="#1f1c1d" stroke-width="1.2"/>
<text id="t82" transform="translate(347.50,766.50) scale(0.9950,1)" font-size="10" fill="#231f20">ROc</text>
<text id="t83" transform="translate(408.10,766.50) scale(1.0511,1)" font-size="10" fill="#231f20">ROp</text>
<line x1="334.90" y1="697.60" x2="377.10" y2="697.60" stroke="#1f1c1d" stroke-width="1.7"/>
<circle cx="356.10" cy="669.20" r="3.90" fill="#564592"/>
<circle cx="350.20" cy="689.90" r="3.90" fill="#564592"/>
<circle cx="361.70" cy="697.60" r="3.90" fill="#564592"/>
<circle cx="361.80" cy="712.90" r="3.90" fill="#564592"/>
<circle cx="350.40" cy="719.60" r="3.90" fill="#564592"/>
<circle cx="417.10" cy="596.30" r="3.95" fill="#cc5a34"/>
<circle cx="417.10" cy="635.30" r="3.95" fill="#cc5a34"/>
<circle cx="422.80" cy="661.10" r="3.95" fill="#cc5a34"/>
<circle cx="411.20" cy="666.40" r="3.95" fill="#cc5a34"/>
<line x1="396.60" y1="639.90" x2="437.20" y2="639.90" stroke="#1f1c1d" stroke-width="1.7"/>
<text id="t84" transform="translate(12.00,802.60) scale(0.7925,1)" font-size="16.5" fill="#231f20">G</text>
<text id="t85" transform="translate(111.50,816.90) scale(0.8648,1)" font-size="14" fill="#231f20">AML1</text>
<text id="t86" transform="translate(77.50,833.75) scale(0.8075,1)" font-size="10" fill="#231f20">FC:</text>
<text id="t87" transform="translate(98.25,833.75) scale(0.9353,1)" font-size="10" fill="#231f20">3.5</text>
<text id="t88" transform="translate(155.00,833.80) scale(0.9712,1)" font-size="10" fill="#231f20">5.9</text>
<text id="t89" transform="translate(77.00,847.00) scale(0.9939,1)" font-size="10" fill="#231f20">*P = .048</text>
<line x1="68.90" y1="846.50" x2="68.90" y2="990.80" stroke="#1f1c1d" stroke-width="1.4"/>
<line x1="64.30" y1="850.60" x2="68.90" y2="850.60" stroke="#1f1c1d" stroke-width="1.2"/>
<text id="t90" transform="translate(53.45,854.40) scale(1.0000,1)" font-size="10" fill="#231f20">0</text>
<line x1="64.30" y1="897.33" x2="68.90" y2="897.33" stroke="#1f1c1d" stroke-width="1.2"/>
<text id="t91" transform="translate(50.10,901.13) scale(1.0000,1)" font-size="10" fill="#231f20">-2</text>
<line x1="64.30" y1="944.07" x2="68.90" y2="944.07" stroke="#1f1c1d" stroke-width="1.2"/>
<text id="t92" transform="translate(50.10,947.87) scale(1.0000,1)" font-size="10" fill="#231f20">-4</text>
<line x1="64.30" y1="990.80" x2="68.90" y2="990.80" stroke="#1f1c1d" stroke-width="1.2"/>
<text id="t93" transform="translate(50.10,994.60) scale(1.0000,1)" font-size="10" fill="#231f20">-6</text>
<path d="M70,850h1v1h-1zM72,850h1v1h-1zM74,850h1v1h-1zM76,850h1v1h-1zM78,850h1v1h-1zM80,850h1v1h-1zM82,850h1v1h-1zM84,850h1v1h-1zM86,850h1v1h-1zM88,850h1v1h-1zM90,850h1v1h-1zM92,850h1v1h-1zM94,850h1v1h-1zM96,850h1v1h-1zM98,850h1v1h-1zM100,850h1v1h-1zM102,850h1v1h-1zM104,850h1v1h-1zM106,850h1v1h-1zM108,850h1v1h-1zM110,850h1v1h-1zM112,850h1v1h-1zM114,850h1v1h-1zM116,850h1v1h-1zM118,850h1v1h-1zM120,850h1v1h-1zM122,850h1v1h-1zM124,850h1v1h-1zM126,850h1v1h-1zM128,850h1v1h-1zM130,850h1v1h-1zM132,850h1v1h-1zM134,850h1v1h-1zM136,850h1v1h-1zM138,850h1v1h-1zM140,850h1v1h-1zM142,850h1v1h-1zM144,850h1v1h-1zM146,850h1v1h-1zM148,850h1v1h-1zM150,850h1v1h-1zM152,850h1v1h-1zM154,850h1v1h-1zM156,850h1v1h-1zM158,850h1v1h-1zM160,850h1v1h-1zM162,850h1v1h-1zM164,850h1v1h-1zM166,850h1v1h-1zM168,850h1v1h-1zM170,850h1v1h-1zM172,850h1v1h-1zM174,850h1v1h-1zM176,850h1v1h-1zM178,850h1v1h-1zM180,850h1v1h-1zM182,850h1v1h-1zM184,850h1v1h-1zM186,850h1v1h-1zM188,850h1v1h-1z" fill="#666" shape-rendering="crispEdges"/>
<line x1="68.20" y1="990.80" x2="189.60" y2="990.80" stroke="#1f1c1d" stroke-width="1.4"/>
<line x1="130.50" y1="850.20" x2="130.50" y2="990.80" stroke="#1f1c1d" stroke-width="1.2"/>
<line x1="96.80" y1="990.80" x2="96.80" y2="995.60" stroke="#1f1c1d" stroke-width="1.2"/>
<line x1="163.60" y1="990.80" x2="163.60" y2="995.60" stroke="#1f1c1d" stroke-width="1.2"/>
<text id="t94" transform="translate(85.00,1009.50) scale(1.0658,1)" font-size="10" fill="#231f20">4wks</text>
<text id="t95" transform="translate(150.80,1009.50) scale(1.0658,1)" font-size="10" fill="#231f20">8wks</text>
<text transform="translate(24.00,918.70) rotate(-90) translate(-76.65,0) scale(0.9339,1)" font-size="13.8" fill="#231f20">log2 ratio %BFP+ (CD34+)</text>
<text transform="translate(40.50,918.80) rotate(-90) translate(-43.00,0) scale(1.0571,1)" font-size="13.8" fill="#231f20">(output/input)</text>
<line x1="81.00" y1="868.00" x2="89.20" y2="868.00" stroke="#1f1c1d" stroke-width="1.6"/>
<line x1="105.50" y1="913.00" x2="114.10" y2="913.00" stroke="#1f1c1d" stroke-width="1.6"/>
<line x1="146.30" y1="875.80" x2="155.00" y2="875.80" stroke="#1f1c1d" stroke-width="1.6"/>
<line x1="170.90" y1="944.40" x2="179.90" y2="944.40" stroke="#1f1c1d" stroke-width="1.6"/>
<circle cx="85.00" cy="852.30" r="2.85" fill="#cc5a34"/>
<circle cx="80.80" cy="876.60" r="2.85" fill="#cc5a34"/>
<circle cx="89.00" cy="875.60" r="2.85" fill="#cc5a34"/>
<circle cx="150.50" cy="863.70" r="2.85" fill="#cc5a34"/>
<circle cx="146.70" cy="881.70" r="2.85" fill="#cc5a34"/>
<circle cx="155.30" cy="881.70" r="2.85" fill="#cc5a34"/>
<circle cx="105.50" cy="898.30" r="2.85" fill="#564592"/>
<circle cx="113.90" cy="900.50" r="2.85" fill="#564592"/>
<circle cx="110.00" cy="940.60" r="2.85" fill="#564592"/>
<circle cx="175.40" cy="917.00" r="2.85" fill="#564592"/>
<circle cx="175.40" cy="971.70" r="2.85" fill="#564592"/>
<circle cx="204.80" cy="814.80" r="2.60" fill="#cc5a34"/>
<circle cx="204.80" cy="831.90" r="2.50" fill="#564592"/>
<text id="t96" transform="translate(211.80,818.20) scale(0.9183,1)" font-size="10" fill="#231f20">shCTRL</text>
<text id="t97" transform="translate(211.80,834.70) scale(0.9734,1)" font-size="10" fill="#231f20">shINKA1</text>
<text id="t98" transform="translate(259.50,802.80) scale(0.7744,1)" font-size="16.5" fill="#231f20">H</text>
<text id="t99" transform="translate(359.80,817.40) scale(0.8976,1)" font-size="14" fill="#231f20">AML2</text>
<text id="t100" transform="translate(329.10,833.70) scale(0.8567,1)" font-size="10" fill="#231f20">FC: 3.1</text>
<text id="t101" transform="translate(407.80,833.80) scale(0.9424,1)" font-size="10" fill="#231f20">4.6</text>
<text id="t102" transform="translate(315.30,846.60) scale(1.0012,1)" font-size="10" fill="#231f20">*P = .021</text>
<text id="t103" transform="translate(384.70,846.60) scale(1.0012,1)" font-size="10" fill="#231f20">*P = .040</text>
<line x1="315.50" y1="848.50" x2="315.50" y2="991.00" stroke="#1f1c1d" stroke-width="1.4"/>
<line x1="310.90" y1="850.30" x2="315.50" y2="850.30" stroke="#1f1c1d" stroke-width="1.2"/>
<text id="t104" transform="translate(299.85,854.10) scale(1.0000,1)" font-size="10" fill="#231f20">0</text>
<line x1="310.90" y1="878.44" x2="315.50" y2="878.44" stroke="#1f1c1d" stroke-width="1.2"/>
<text id="t105" transform="translate(296.50,882.24) scale(1.0000,1)" font-size="10" fill="#231f20">-1</text>
<line x1="310.90" y1="906.58" x2="315.50" y2="906.58" stroke="#1f1c1d" stroke-width="1.2"/>
<text id="t106" transform="translate(296.50,910.38) scale(1.0000,1)" font-size="10" fill="#231f20">-2</text>
<line x1="310.90" y1="934.72" x2="315.50" y2="934.72" stroke="#1f1c1d" stroke-width="1.2"/>
<text id="t107" transform="translate(296.50,938.52) scale(1.0000,1)" font-size="10" fill="#231f20">-3</text>
<line x1="310.90" y1="962.86" x2="315.50" y2="962.86" stroke="#1f1c1d" stroke-width="1.2"/>
<text id="t108" transform="translate(296.50,966.66) scale(1.0000,1)" font-size="10" fill="#231f20">-4</text>
<line x1="310.90" y1="991.00" x2="315.50" y2="991.00" stroke="#1f1c1d" stroke-width="1.2"/>
<text id="t109" transform="translate(296.50,994.80) scale(1.0000,1)" font-size="10" fill="#231f20">-5</text>
<path d="M317,850h1v1h-1zM319,850h1v1h-1zM321,850h1v1h-1zM323,850h1v1h-1zM325,850h1v1h-1zM327,850h1v1h-1zM329,850h1v1h-1zM331,850h1v1h-1zM333,850h1v1h-1zM335,850h1v1h-1zM337,850h1v1h-1zM339,850h1v1h-1zM341,850h1v1h-1zM343,850h1v1h-1zM345,850h1v1h-1zM347,850h1v1h-1zM349,850h1v1h-1zM351,850h1v1h-1zM353,850h1v1h-1zM355,850h1v1h-1zM357,850h1v1h-1zM359,850h1v1h-1zM361,850h1v1h-1zM363,850h1v1h-1zM365,850h1v1h-1zM367,850h1v1h-1zM369,850h1v1h-1zM371,850h1v1h-1zM373,850h1v1h-1zM375,850h1v1h-1zM377,850h1v1h-1zM379,850h1v1h-1zM381,850h1v1h-1zM383,850h1v1h-1zM385,850h1v1h-1zM387,850h1v1h-1zM389,850h1v1h-1zM391,850h1v1h-1zM393,850h1v1h-1zM395,850h1v1h-1zM397,850h1v1h-1zM399,850h1v1h-1zM401,850h1v1h-1zM403,850h1v1h-1zM405,850h1v1h-1zM407,850h1v1h-1zM409,850h1v1h-1zM411,850h1v1h-1zM413,850h1v1h-1zM415,850h1v1h-1zM417,850h1v1h-1zM419,850h1v1h-1zM421,850h1v1h-1zM423,850h1v1h-1zM425,850h1v1h-1zM427,850h1v1h-1zM429,850h1v1h-1zM431,850h1v1h-1zM433,850h1v1h-1zM435,850h1v1h-1zM437,850h1v1h-1zM439,850h1v1h-1z" fill="#666" shape-rendering="crispEdges"/>
<line x1="314.80" y1="991.00" x2="435.90" y2="991.00" stroke="#1f1c1d" stroke-width="1.4"/>
<line x1="378.50" y1="850.20" x2="378.50" y2="991.00" stroke="#1f1c1d" stroke-width="1.2"/>
<line x1="344.00" y1="991.00" x2="344.00" y2="995.80" stroke="#1f1c1d" stroke-width="1.2"/>
<line x1="411.00" y1="991.00" x2="411.00" y2="995.80" stroke="#1f1c1d" stroke-width="1.2"/>
<text id="t110" transform="translate(331.70,1009.50) scale(1.0921,1)" font-size="10" fill="#231f20">4wks</text>
<text id="t111" transform="translate(398.20,1009.50) scale(1.1228,1)" font-size="10" fill="#231f20">8wks</text>
<text transform="translate(270.30,918.00) rotate(-90) translate(-77.45,0) scale(0.9436,1)" font-size="13.8" fill="#231f20">log2 ratio %BFP+ (CD34+)</text>
<text transform="translate(287.00,919.00) rotate(-90) translate(-42.75,0) scale(1.0510,1)" font-size="13.8" fill="#231f20">(output/input)</text>
<line x1="328.20" y1="890.50" x2="336.80" y2="890.50" stroke="#1f1c1d" stroke-width="1.6"/>
<line x1="353.20" y1="933.50" x2="361.50" y2="933.50" stroke="#1f1c1d" stroke-width="1.6"/>
<line x1="394.60" y1="894.90" x2="402.80" y2="894.90" stroke="#1f1c1d" stroke-width="1.6"/>
<line x1="419.40" y1="955.50" x2="427.50" y2="955.50" stroke="#1f1c1d" stroke-width="1.6"/>
<circle cx="332.00" cy="874.60" r="2.85" fill="#cc5a34"/>
<circle cx="332.00" cy="883.70" r="2.85" fill="#cc5a34"/>
<circle cx="332.00" cy="912.60" r="2.85" fill="#cc5a34"/>
<circle cx="398.60" cy="867.80" r="2.85" fill="#cc5a34"/>
<circle cx="398.60" cy="893.40" r="2.85" fill="#cc5a34"/>
<circle cx="398.60" cy="922.30" r="2.85" fill="#cc5a34"/>
<circle cx="352.70" cy="929.00" r="2.85" fill="#564592"/>
<circle cx="357.00" cy="935.20" r="2.85" fill="#564592"/>
<circle cx="360.90" cy="935.20" r="2.85" fill="#564592"/>
<circle cx="423.80" cy="930.70" r="2.85" fill="#564592"/>
<circle cx="423.80" cy="962.50" r="2.85" fill="#564592"/>
<circle cx="423.80" cy="972.00" r="2.85" fill="#564592"/>
<rect x="0.00" y="0.00" width="519.50" height="1.60" fill="#000"/>
<rect x="0.00" y="0.00" width="1.60" height="1020.00" fill="#000"/>
<rect x="518.00" y="0.00" width="1.10" height="1020.00" fill="#1f1c1d"/>
<rect x="0.00" y="1018.90" width="519.00" height="1.10" fill="#1f1c1d"/>
<rect x="519.10" y="0.00" width="0.90" height="1021.00" fill="#7a7a7a"/>
<rect x="0.00" y="1020.00" width="520.00" height="1.00" fill="#7a7a7a"/>
</svg>
</body></html>
